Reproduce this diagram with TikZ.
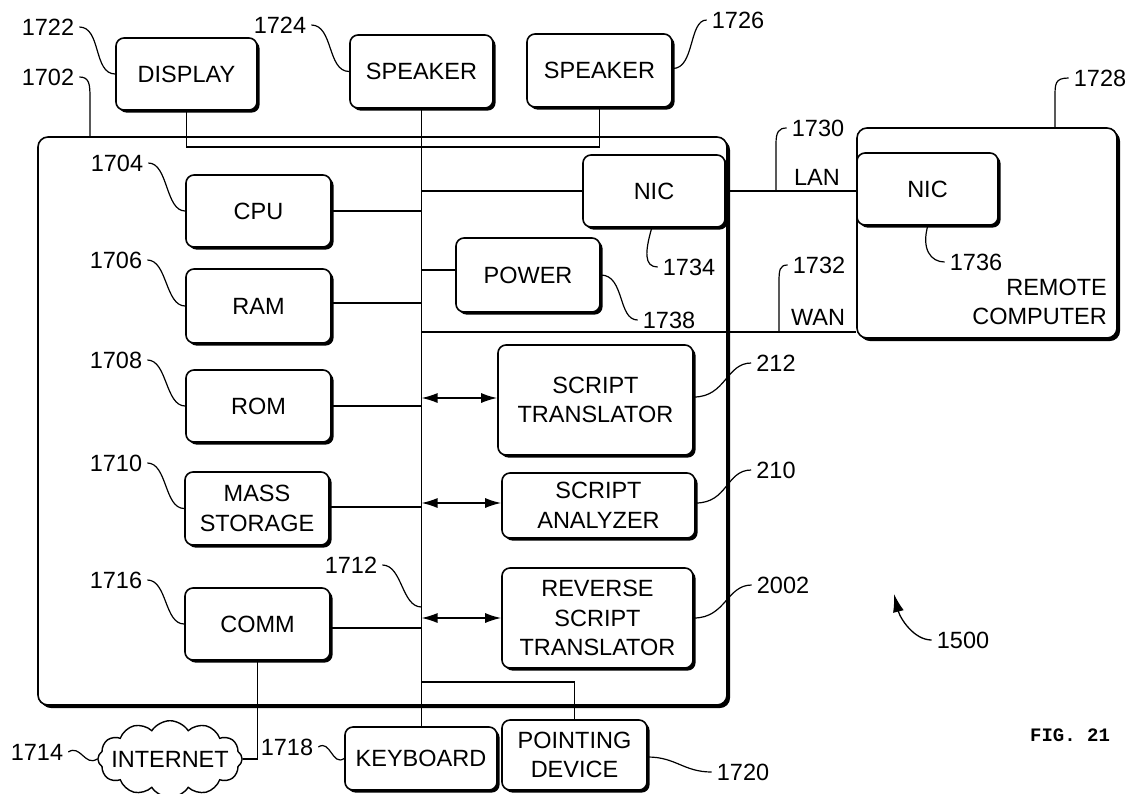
\documentclass[tikz,border=0pt]{standalone}
\usepackage{fontspec}
\setmainfont{Liberation Sans}
\newfontfamily\figmono{Liberation Mono}
\usetikzlibrary{shapes.symbols,shadows,arrows.meta,calc}
\begin{document}
\begin{tikzpicture}[x=1pt,y=-1pt,
  every node/.style={font=\fontsize{23.5}{29.5}\selectfont, inner sep=0pt},
  blk/.style={draw, line width=1.6pt, rounded corners=8pt, fill=white, align=center,
     drop shadow={shadow xshift=2.6pt, shadow yshift=-2.6pt, fill=black, opacity=1}},
  bigblk/.style={blk, rounded corners=10pt,
     drop shadow={shadow xshift=3pt, shadow yshift=-3pt, fill=black, opacity=1}},
  wire/.style={line width=1.5pt},
  lead/.style={line width=1.2pt},
  lab/.style={inner xsep=5pt, inner ysep=0pt},
  dbl/.style={line width=1.5pt, {Latex[length=16pt,width=10pt]}-{Latex[length=16pt,width=10pt]}},
]
\useasboundingbox (0,0) rectangle (1129,793);

% outer computer boxes
\node[bigblk, minimum width=689pt, minimum height=568pt] (main) at (382.5,421) {};
\node[bigblk, minimum width=260pt, minimum height=210pt] (remote) at (987,233) {};
\node[align=right, anchor=east] (remtxt) at (1107,302) {REMOTE\\COMPUTER};

% peripheral boxes
\node[blk, minimum width=141pt, minimum height=72pt] (display) at (186.5,74) {DISPLAY};
\node[blk, minimum width=143pt, minimum height=73pt] (spk1) at (421.5,71.5) {SPEAKER};
\node[blk, minimum width=145pt, minimum height=73pt] (spk2) at (599.5,70.5) {SPEAKER};
\node[blk, minimum width=152pt, minimum height=63pt] (kbd) at (421,758.5) {KEYBOARD};
\node[blk, minimum width=145pt, minimum height=70pt] (pd) at (574.5,755) {POINTING\\DEVICE};
\node[cloud, draw, line width=1.4pt, cloud puffs=12, cloud puff arc=115, aspect=2.4,
      inner xsep=-9pt, inner ysep=-5pt, fill=white] (cloud) at (170,759) {INTERNET};

% internal boxes
\node[blk, minimum width=145pt, minimum height=72pt] (cpu) at (258.5,211) {CPU};
\node[blk, minimum width=145pt, minimum height=74pt] (ram) at (258.5,306) {RAM};
\node[blk, minimum width=145pt, minimum height=72pt] (rom) at (258.5,406) {ROM};
\node[blk, minimum width=144pt, minimum height=73pt] (mass) at (257,508.5) {MASS\\STORAGE};
\node[blk, minimum width=145pt, minimum height=72pt] (comm) at (257.5,624) {COMM};
\node[blk, minimum width=142pt, minimum height=72pt] (nic1) at (654,191) {NIC};
\node[blk, minimum width=141pt, minimum height=72pt] (nic2) at (927.5,189) {NIC};
\node[blk, minimum width=144pt, minimum height=74pt] (power) at (528,275) {POWER};
\node[blk, minimum width=195pt, minimum height=110pt] (st) at (595.5,400) {SCRIPT\\TRANSLATOR};
\node[blk, minimum width=193pt, minimum height=65pt] (sa) at (598.5,505.5) {SCRIPT\\ANALYZER};
\node[blk, minimum width=191pt, minimum height=100pt] (rst) at (597.5,618) {REVERSE\\SCRIPT\\TRANSLATOR};

% coordinates on wires
\coordinate (bus) at (spk1.south);
\coordinate (dispL) at (421.5,147);
\coordinate (wanL) at (421.5,332);
\coordinate (pdL) at (421.5,682);
\coordinate (c1712) at (421.5,607);
\coordinate (c1730) at (776,191);
\coordinate (c1732) at (779,332);
\coordinate (c1734) at (652,227);
\coordinate (c1736) at (928,225);
\coordinate (c1702) at (90,137);
\coordinate (c1728) at (1055,128);
\coordinate (t1500) at (894,594);

% wires
\draw[wire] (spk1.south) -- (spk1.south |- kbd.north);
\draw[wire] (display.south) |- (dispL) -| (spk2.south);
\draw[wire] (cpu.east) -- (cpu.east -| bus);
\draw[wire] ([yshift=3pt]ram.east) -- ([yshift=3pt]ram.east -| bus);
\draw[wire] (rom.east) -- (rom.east -| bus);
\draw[wire] ([yshift=1.5pt]mass.east) -- ([yshift=1.5pt]mass.east -| bus);
\draw[wire] ([yshift=-4pt]comm.east) -- ([yshift=-4pt]comm.east -| bus);
\draw[wire] (nic1.west) -- (nic1.west -| bus);
\draw[wire] ([yshift=5pt]power.west) -- ([yshift=5pt]power.west -| bus);
\draw[wire] (nic1.east) -- (nic1.east -| nic2.west);
\draw[wire] (wanL) -- (wanL -| remote.west);
\draw[wire] (pdL) -| (pd.north);
\draw[wire] (comm.south) |- (cloud.east);
\draw[dbl] ([yshift=2pt]st.west -| bus) -- ([yshift=2pt]st.west);
\draw[dbl] ([yshift=2.5pt]sa.west -| bus) -- ([yshift=2.5pt]sa.west);
\draw[dbl] (rst.west -| bus) -- (rst.west);

% labels
\node[lab] (l1722) at (48,27) {1722};
\node[lab] (l1724) at (280,25) {1724};
\node[lab] (l1726) at (738,20) {1726};
\node[lab] (l1702) at (48,77) {1702};
\node[lab] (l1728) at (1100,78) {1728};
\node[lab] (l1730) at (818,128) {1730};
\node (lan) at (817,177) {LAN};
\node[lab] (l1732) at (819,265) {1732};
\node (wan) at (818,317) {WAN};
\node[lab] (l1734) at (689,267) {1734};
\node[lab] (l1736) at (976,262) {1736};
\node[lab] (l1738) at (669,320) {1738};
\node[lab] (l1704) at (117,163) {1704};
\node[lab] (l1706) at (116,260) {1706};
\node[lab] (l1708) at (116,360) {1708};
\node[lab] (l1710) at (116,463) {1710};
\node[lab] (l1716) at (116,580) {1716};
\node[lab] (l1712) at (351,565) {1712};
\node[lab] (l212) at (776,363) {212};
\node[lab] (l210) at (776,470) {210};
\node[lab] (l2002) at (783,585) {2002};
\node[lab] (l1714) at (37,752) {1714};
\node[lab] (l1718) at (287,747) {1718};
\node[lab] (l1720) at (743,772) {1720};
\node[lab] (l1500) at (963,640) {1500};
\node[font=\figmono\bfseries\fontsize{19}{21}\selectfont] (fig) at (1070,735) {FIG. 21};

% leader lines
\draw[lead] (l1722.east) .. controls +(22,0) and +(-22,0) .. (display.west);
\draw[lead] (l1724.east) .. controls +(22,0) and +(-22,0) .. (spk1.west);
\draw[lead] ([yshift=2pt]spk2.east) .. controls +(22,0) and +(-18,0) .. (l1726.west);
\draw[lead] (l1702.east) .. controls +(10,0) and +(0,-14) .. (90,98) -- (c1702);
\draw[lead] (l1728.west) .. controls +(-14,0) and +(0,-14) .. (1055,98) -- (c1728);
\draw[lead] (c1730) -- (776,144) .. controls +(0,-12) and +(-8,0) .. (l1730.west);
\draw[lead] (c1732) -- (779,282) .. controls +(0,-12) and +(-8,0) .. (l1732.west);
\draw[lead] (c1734) .. controls +(-7,24) and +(-14,0) .. (l1734.west);
\draw[lead] (c1736) .. controls +(-7,24) and +(-14,0) .. (l1736.west);
\draw[lead] (power.east) .. controls +(24,0) and +(-20,0) .. (l1738.west);
\draw[lead] (l1704.east) .. controls +(20,0) and +(-20,0) .. (cpu.west);
\draw[lead] (l1706.east) .. controls +(20,0) and +(-20,0) .. (ram.west);
\draw[lead] (l1708.east) .. controls +(20,0) and +(-20,0) .. (rom.west);
\draw[lead] (l1710.east) .. controls +(20,0) and +(-20,0) .. (mass.west);
\draw[lead] (l1716.east) .. controls +(20,0) and +(-20,0) .. (comm.west);
\draw[lead] (l1712.east) .. controls +(20,0) and +(-20,0) .. (c1712);
\draw[lead] ([yshift=3pt]st.east) .. controls +(32,0) and +(-25,0) .. (l212.west);
\draw[lead] ([yshift=2.5pt]sa.east) .. controls +(32,0) and +(-25,0) .. (l210.west);
\draw[lead] (rst.east) .. controls +(32,0) and +(-25,0) .. (l2002.west);
\draw[lead] (l1714.east) .. controls +(12,-8) and +(-12,8) .. (cloud.west);
\draw[lead] (l1718.east) .. controls +(12,-8) and +(-12,8) .. (kbd.west);
\draw[lead] ([yshift=-2pt]pd.east) .. controls +(28,0) and +(-28,0) .. (l1720.west);
\draw[line width=1.3pt, -{Latex[length=18pt,width=11pt]}] (l1500.west) .. controls +(-18,0) and +(6,24) .. (t1500);
\end{tikzpicture}
\end{document}
